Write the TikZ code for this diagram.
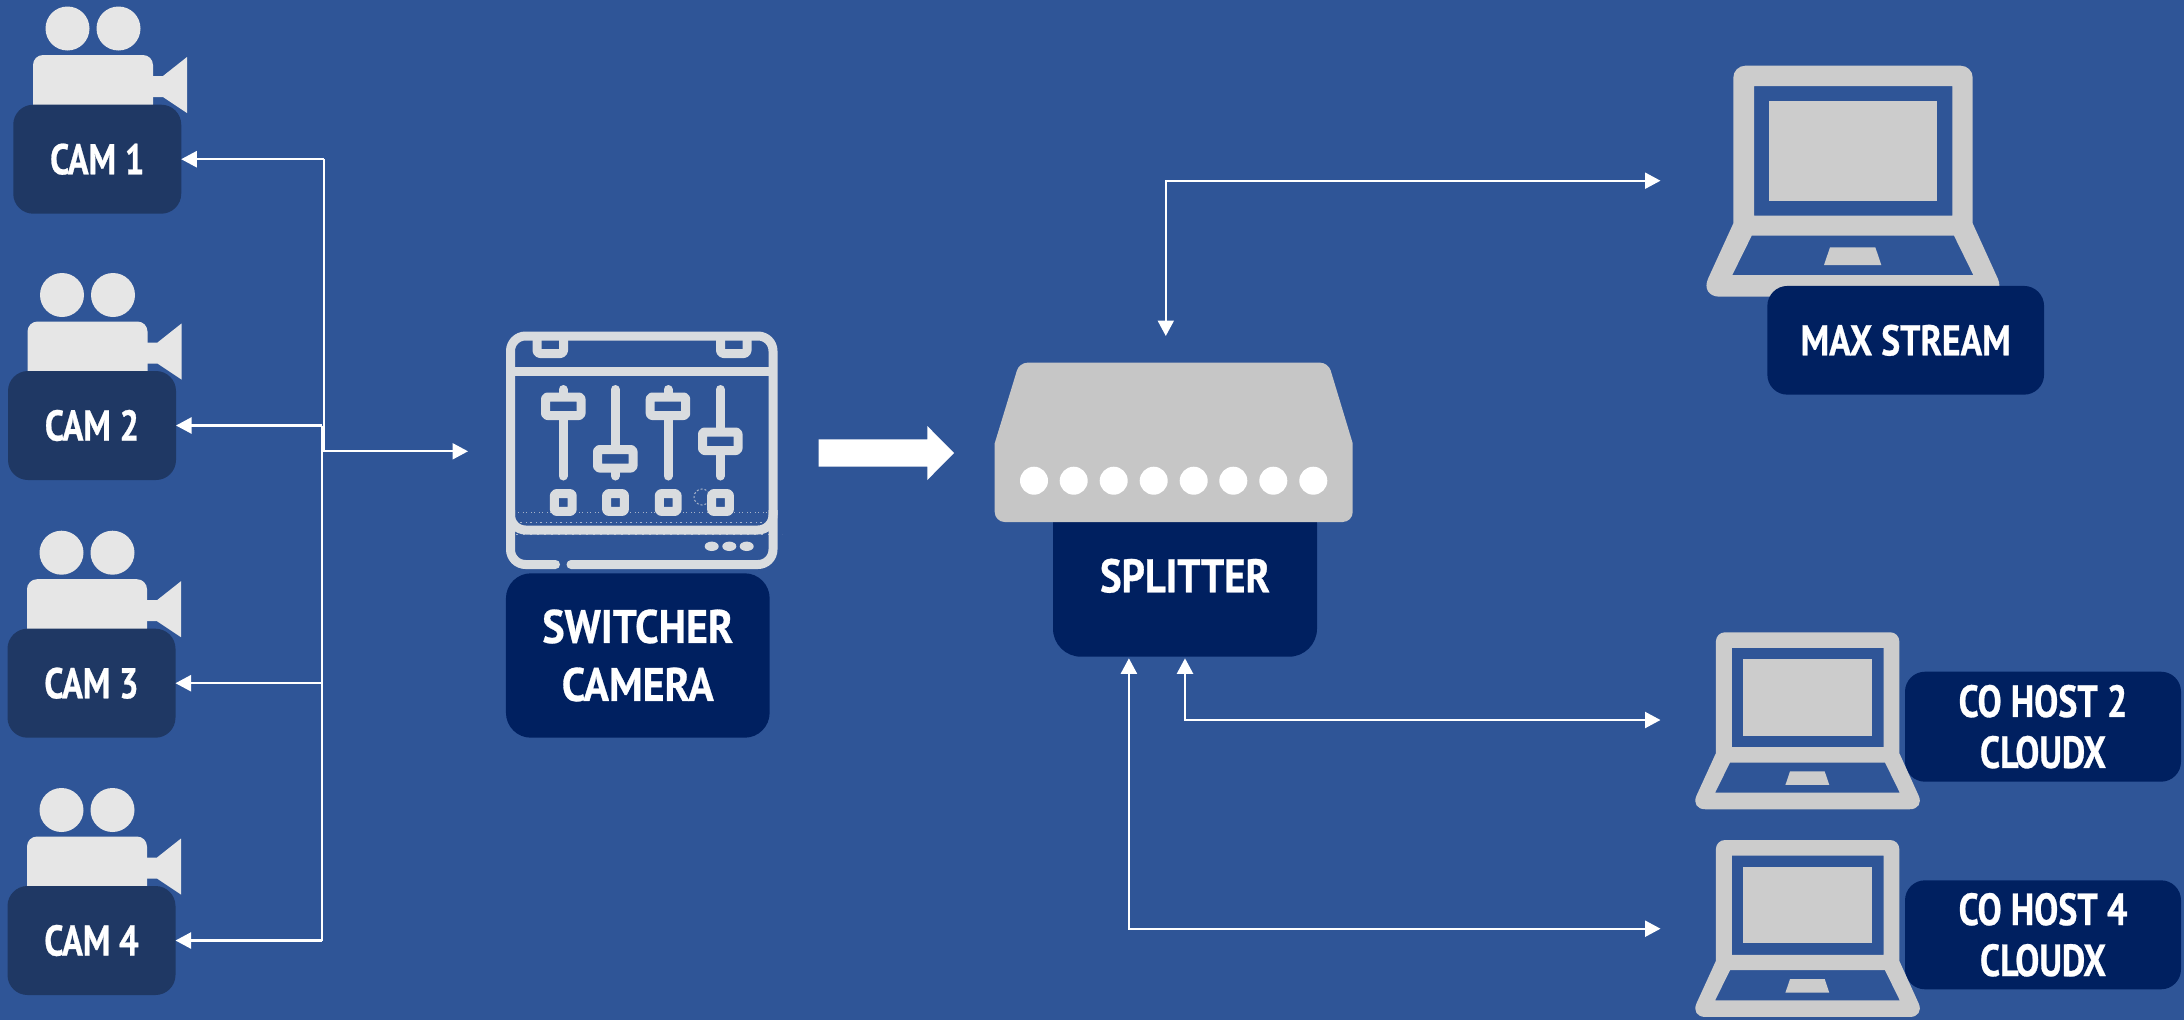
\documentclass[tikz,border=0pt]{standalone}
\usepackage{fontspec}
\setmainfont{PT Sans}
\newfontfamily\narrowA[FakeStretch=.80,BoldFeatures={FakeBold=0.6}]{PT Sans}
\newfontfamily\narrowB[FakeStretch=.83,BoldFeatures={FakeBold=0.6}]{PT Sans}
\newfontfamily\narrowC[FakeStretch=.865,BoldFeatures={FakeBold=0.6}]{PT Sans}
\newfontfamily\narrowD[FakeStretch=.895,BoldFeatures={FakeBold=0.6}]{PT Sans}
\usetikzlibrary{arrows.meta}
\definecolor{bgblue}{HTML}{2F5597}
\definecolor{camnavy}{HTML}{1F3864}
\definecolor{boxnavy}{HTML}{002060}
\definecolor{camgray}{HTML}{E6E6E6}
\definecolor{lapgray}{HTML}{CCCCCC}
\definecolor{splitgray}{HTML}{C6C6C6}
\definecolor{mixgray}{HTML}{D9DCDF}
\tikzset{
  wire/.style={draw=white,line width=2.2pt,line join=miter},
  tip/.style={-{Triangle[length=15.5pt,width=16pt,fill=white]}},
  tips/.style={{Triangle[length=15.5pt,width=16pt,fill=white]}-{Triangle[length=15.5pt,width=16pt,fill=white]}},
  lab/.style={fill=boxnavy,text=white,align=center,inner sep=0pt,outer sep=0pt,anchor=center},
  camlab/.style={lab,fill=camnavy,rounded corners=20pt,minimum width=168pt,minimum height=109pt,font=\narrowA\fontsize{43}{50}\selectfont\bfseries},
  mixline/.style={draw=mixgray,line width=9pt,line cap=round,line join=round},
  speck/.style={draw=mixgray,line width=1pt,opacity=.7}
}
\newcommand{\camicon}[2]{%
  \begin{scope}[shift={(#1,#2)}]
    \fill[camgray] (54,-76) circle (22) (105,-76) circle (22);
    \fill[camgray,rounded corners=10pt] (19.5,10) -- (19.5,-49.5) -- (139.5,-49.5) -- (139.5,10) -- cycle;
    \fill[camgray] (139,-28.5) -- (149.5,-28.5) -- (173.5,-47.5) -- (173.5,8.5) -- (149.5,-7.5) -- (139,-7.5) -- cycle;
  \end{scope}}
\newcommand{\lapicon}[5]{% x y scale topcorner bottomcorner
  \begin{scope}[shift={(#1,#2)},scale=#3]
    \fill[lapgray,even odd rule]
      (27.3,157.7) [rounded corners=#4] -- (27.3,0) -- (266.7,0) [sharp corners] -- (266.7,157.7) [rounded corners=#5] -- (300,231) -- (-6.2,231) [sharp corners] -- cycle
      (48,20.3) rectangle (246.3,150)
      (45.7,170) -- (248,170) -- (267.3,209.3) -- (26.3,209.3) -- cycle;
    \fill[lapgray] (63,35.3) rectangle (231.3,135);
    \fill[lapgray] (124,181.6) -- (169.3,181.6) -- (175.3,199.3) -- (118,199.3) -- cycle;
  \end{scope}}
\begin{document}
\begin{tikzpicture}[x=1pt,y=-1pt]
\useasboundingbox (0,0) rectangle (2184,1020);
\fill[bgblue] (0,0) rectangle (2184,1020);

% cameras
\camicon{13.5}{104.5}
\camicon{8}{371}
\camicon{7.5}{628.7}
\camicon{7.5}{886}
\node[camlab] (cam1) at (97.25,159.2) {CAM 1};
\node[camlab] (cam2) at (92,425.5) {CAM 2};
\node[camlab] (cam3) at (91.5,683.2) {CAM 3};
\node[camlab] (cam4) at (91.5,940.5) {CAM 4};

% switcher icon
\draw[mixline,rounded corners=15pt] (571,564.5) -- (773,564.5) -- (773,336) -- (510.5,336) -- (510.5,564.5) -- (555.5,564.5);
\draw[mixline,line cap=butt] (510.5,371.3) -- (773,371.3);
\draw[mixline,line cap=butt,rounded corners=3pt] (537,336) -- (537,353.5) -- (563.5,353.5) -- (563.5,336);
\draw[mixline,line cap=butt,rounded corners=3pt] (720.5,336) -- (720.5,353.5) -- (747,353.5) -- (747,336);
\draw[mixline] (563,389.5) -- (563,476);
\draw[mixline] (615.3,389.5) -- (615.3,476);
\draw[mixline] (668,389.5) -- (668,476);
\draw[mixline] (720.3,389.5) -- (720.3,476);
\path[mixline,fill=bgblue,rounded corners=2pt] (545.5,397) rectangle (581,415.5);
\path[mixline,fill=bgblue,rounded corners=2pt] (597.5,449.5) rectangle (633,468);
\path[mixline,fill=bgblue,rounded corners=2pt] (650.2,397) rectangle (685.7,415.5);
\path[mixline,fill=bgblue,rounded corners=2pt] (702.5,432) rectangle (738,450.5);
\foreach \kx in {563.3,615.5,668.2,720.5}
  \path[mixline,fill=bgblue,rounded corners=2pt] (\kx-8.9,493.6) rectangle (\kx+8.9,511.4);
\draw[mixline,line cap=butt,rounded corners=15pt] (510.5,510) -- (510.5,530) -- (773,530) -- (773,510);
\fill[mixgray] (711.7,546.3) ellipse (7 and 4.7) (729.3,546.3) ellipse (7 and 4.7) (746.7,546.3) ellipse (7 and 4.7);
\draw[speck,dash pattern=on 1pt off 3pt on 2pt off 4pt] (516,522) -- (768,522);
\draw[speck,dash pattern=on 1pt off 4pt on 1pt off 2pt] (518,512) -- (768,512);
\draw[speck,dash pattern=on 2pt off 5pt] (516,534) -- (782,534);
\draw[speck,dash pattern=on 2pt off 2pt] (702,497) circle (8);
\node[lab,rounded corners=25pt,minimum width=263.7pt,minimum height=164.4pt,font=\narrowD\fontsize{47}{58}\selectfont\bfseries] (switch) at (637.8,655.5) {SWITCHER\\CAMERA};

% big block arrow
\fill[white] (818.7,439.3) -- (927.3,439.3) -- (927.3,426) -- (954,453) -- (927.3,480) -- (927.3,466.7) -- (818.7,466.7) -- cycle;

% splitter
\node[lab,rounded corners=28pt,minimum width=264pt,minimum height=161.8pt,font=\narrowC\fontsize{47}{56}\selectfont\bfseries] (split) at (1185,575.8) {SPLITTER};
\fill[splitgray] (994.7,443.3) [rounded corners=8pt] -- (1019.3,362.7) -- (1328.3,362.7) [sharp corners] -- (1352.7,443.3) [rounded corners=10pt] -- (1352.7,522) -- (994.7,522) [sharp corners] -- cycle;
\foreach \dx in {1034,1073.7,1113.7,1153.7,1193.7,1233.3,1273.3,1313.3}
  \fill[white] (\dx,480.7) circle (14);

% laptops and labels
\lapicon{1706}{65.7}{1}{12pt}{20pt}
\node[lab,rounded corners=20pt,minimum width=276.7pt,minimum height=108.7pt,font=\narrowB\fontsize{43}{50}\selectfont\bfseries] (max) at (1905.7,340.3) {MAX STREAM};
\node[lab,rounded corners=20pt,minimum width=276pt,minimum height=110pt,font=\narrowA\fontsize{45}{51}\selectfont\bfseries] (host2) at (2043,726.7) {CO HOST 2\\CLOUDX};
\node[lab,rounded corners=20pt,minimum width=276pt,minimum height=109pt,font=\narrowA\fontsize{45}{51}\selectfont\bfseries] (host4) at (2043,934.8) {CO HOST 4\\CLOUDX};
\lapicon{1695}{632.3}{.766}{9pt}{15pt}
\lapicon{1695}{840}{.766}{9pt}{15pt}

% connectors
\coordinate (hubA) at (324.3,159.2);
\coordinate (hubB) at (324.3,451.3);
\coordinate (hubC) at (322,425.5);
\coordinate (hubD) at (322,683.2);
\coordinate (hubE) at (322,940.5);
\coordinate (hubF) at (322,451.3);
\coordinate (swIn) at (468,451.3);
\draw[wire,tip] (hubA) -- (cam1.east);
\draw[wire,tip] (hubC) -- (cam2.east);
\draw[wire,tip] (hubD) -- (cam3.east);
\draw[wire,tip] (hubE) -- (cam4.east);
\draw[wire] (hubA) -- (hubB);
\draw[wire] (hubC) -- (hubE);
\draw[wire,tip] (hubF) -- (swIn);

\coordinate (splitTop) at (1165.8,336);
\coordinate (maxIn) at (1660.5,180.7);
\coordinate (host2In) at (1660.5,720);
\coordinate (host4In) at (1660.5,928.7);
\coordinate (splitB) at (1185,658.3);
\coordinate (splitC) at (1128.9,658.3);
\draw[wire,tips] (splitTop) |- (maxIn);
\draw[wire,tips] (splitB) |- (host2In);
\draw[wire,tips] (splitC) |- (host4In);
\end{tikzpicture}
\end{document}
